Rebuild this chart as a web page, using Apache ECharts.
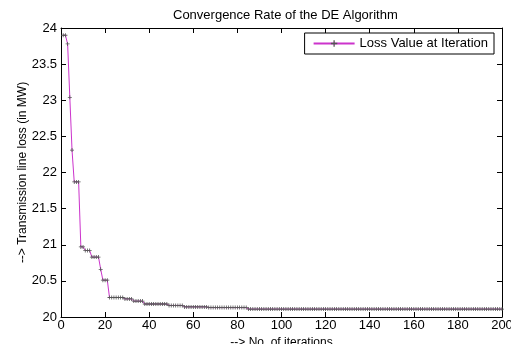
<!DOCTYPE html>
<html><head><meta charset="utf-8">
<script src="https://cdn.jsdelivr.net/npm/echarts@6/dist/echarts.min.js"></script>
<style>html,body{margin:0;padding:0;background:#fff}#c{width:511px;height:344px}</style>
</head><body><div id="c"></div>
<script>
var title = 'Convergence Rate of the DE Algorithm';
var seriesName = 'Loss Value at Iteration';
var xTicks = [0,20,40,60,80,100,120,140,160,180,200];
var yTicks = [20,20.5,21,21.5,22,22.5,23,23.5,24];
var lossValues = [
23.90,23.90,23.78,23.04,22.31,21.87,21.87,21.87,20.97,20.97,
20.92,20.92,20.92,20.83,20.83,20.83,20.83,20.66,20.51,20.51,
20.51,20.27,20.27,20.27,20.27,20.27,20.27,20.27,20.25,20.25,
20.25,20.25,20.22,20.22,20.22,20.22,20.22,20.18,20.18,20.18,
20.18,20.18,20.18,20.18,20.18,20.18,20.18,20.18,20.16,20.16,
20.16,20.16,20.16,20.16,20.16,20.14,20.14,20.14,20.14,20.14,
20.14,20.14,20.14,20.14,20.14,20.14,20.13,20.13,20.13,20.13,
20.13,20.13,20.13,20.13,20.13,20.13,20.13,20.13,20.13,20.13,
20.13,20.13,20.13,20.13,20.11,20.11,20.11,20.11,20.11,20.11,
20.11,20.11,20.11,20.11,20.11,20.11,20.11,20.11,20.11,20.11,
20.11,20.11,20.11,20.11,20.11,20.11,20.11,20.11,20.11,20.11,
20.11,20.11,20.11,20.11,20.11,20.11,20.11,20.11,20.11,20.11,
20.11,20.11,20.11,20.11,20.11,20.11,20.11,20.11,20.11,20.11,
20.11,20.11,20.11,20.11,20.11,20.11,20.11,20.11,20.11,20.11,
20.11,20.11,20.11,20.11,20.11,20.11,20.11,20.11,20.11,20.11,
20.11,20.11,20.11,20.11,20.11,20.11,20.11,20.11,20.11,20.11,
20.11,20.11,20.11,20.11,20.11,20.11,20.11,20.11,20.11,20.11,
20.11,20.11,20.11,20.11,20.11,20.11,20.11,20.11,20.11,20.11,
20.11,20.11,20.11,20.11,20.11,20.11,20.11,20.11,20.11,20.11,
20.11,20.11,20.11,20.11,20.11,20.11,20.11,20.11,20.11,20.11
];
var points = lossValues.map(function(v,i){return [i+1, v];});
var font = 'Liberation Sans, Arial, sans-serif';
var plus = 'path://M4,0h2v4h4v2h-4v4h-2v-4h-4v-2h4z';
var axisCommon = {
  axisLine:{show:true,onZero:false,lineStyle:{color:'#000',width:1}},
  axisTick:{show:true,inside:true,length:5,lineStyle:{color:'#000'}},
  splitLine:{show:false}
};
var chart = echarts.init(document.getElementById('c'));
chart.setOption({
  animation:false,
  backgroundColor:'#fff',
  title:{text:title,left:168,top:4,textStyle:{fontFamily:font,fontSize:13,fontWeight:'normal',color:'#000'}},
  legend:{
    data:[seriesName], right:17, top:33, orient:'vertical',
    borderColor:'#000', borderWidth:1, padding:[4,6,4,8],
    itemWidth:41, itemHeight:8, itemGap:4,
    textStyle:{fontFamily:font,fontSize:13,color:'#000'}
  },
  grid:{left:61,right:9,top:28,bottom:27,containLabel:false,outerBoundsMode:'none'},
  xAxis:[
    Object.assign({type:'value',min:0,max:200,interval:20,
      name:'--> No. of iterations',nameLocation:'middle',nameGap:20,nameMoveOverlap:false,
      nameTextStyle:{fontFamily:font,fontSize:12,color:'#000'},
      axisLabel:{fontFamily:font,fontSize:13,color:'#000',margin:2}}, axisCommon),
    Object.assign({type:'value',position:'top',min:0,max:200,interval:20,axisLabel:{show:false}}, axisCommon)
  ],
  yAxis:[
    Object.assign({type:'value',min:20,max:24,interval:0.5,
      name:'--> Transmission line loss (in MW)',nameLocation:'middle',nameGap:32,nameMoveOverlap:false,
      nameTextStyle:{fontFamily:font,fontSize:12,color:'#000'},
      axisLabel:{fontFamily:font,fontSize:13,color:'#000',margin:4}}, axisCommon),
    Object.assign({type:'value',position:'right',min:20,max:24,interval:0.5,axisLabel:{show:false}}, axisCommon)
  ],
  series:[{
    name:seriesName, type:'line', data:points,
    lineStyle:{color:'#cc33cc',width:1},
    itemStyle:{color:'#555'},
    symbol:plus, symbolSize:4, showSymbol:true,
    color:'#cc33cc'
  }]
});
</script></body></html>
